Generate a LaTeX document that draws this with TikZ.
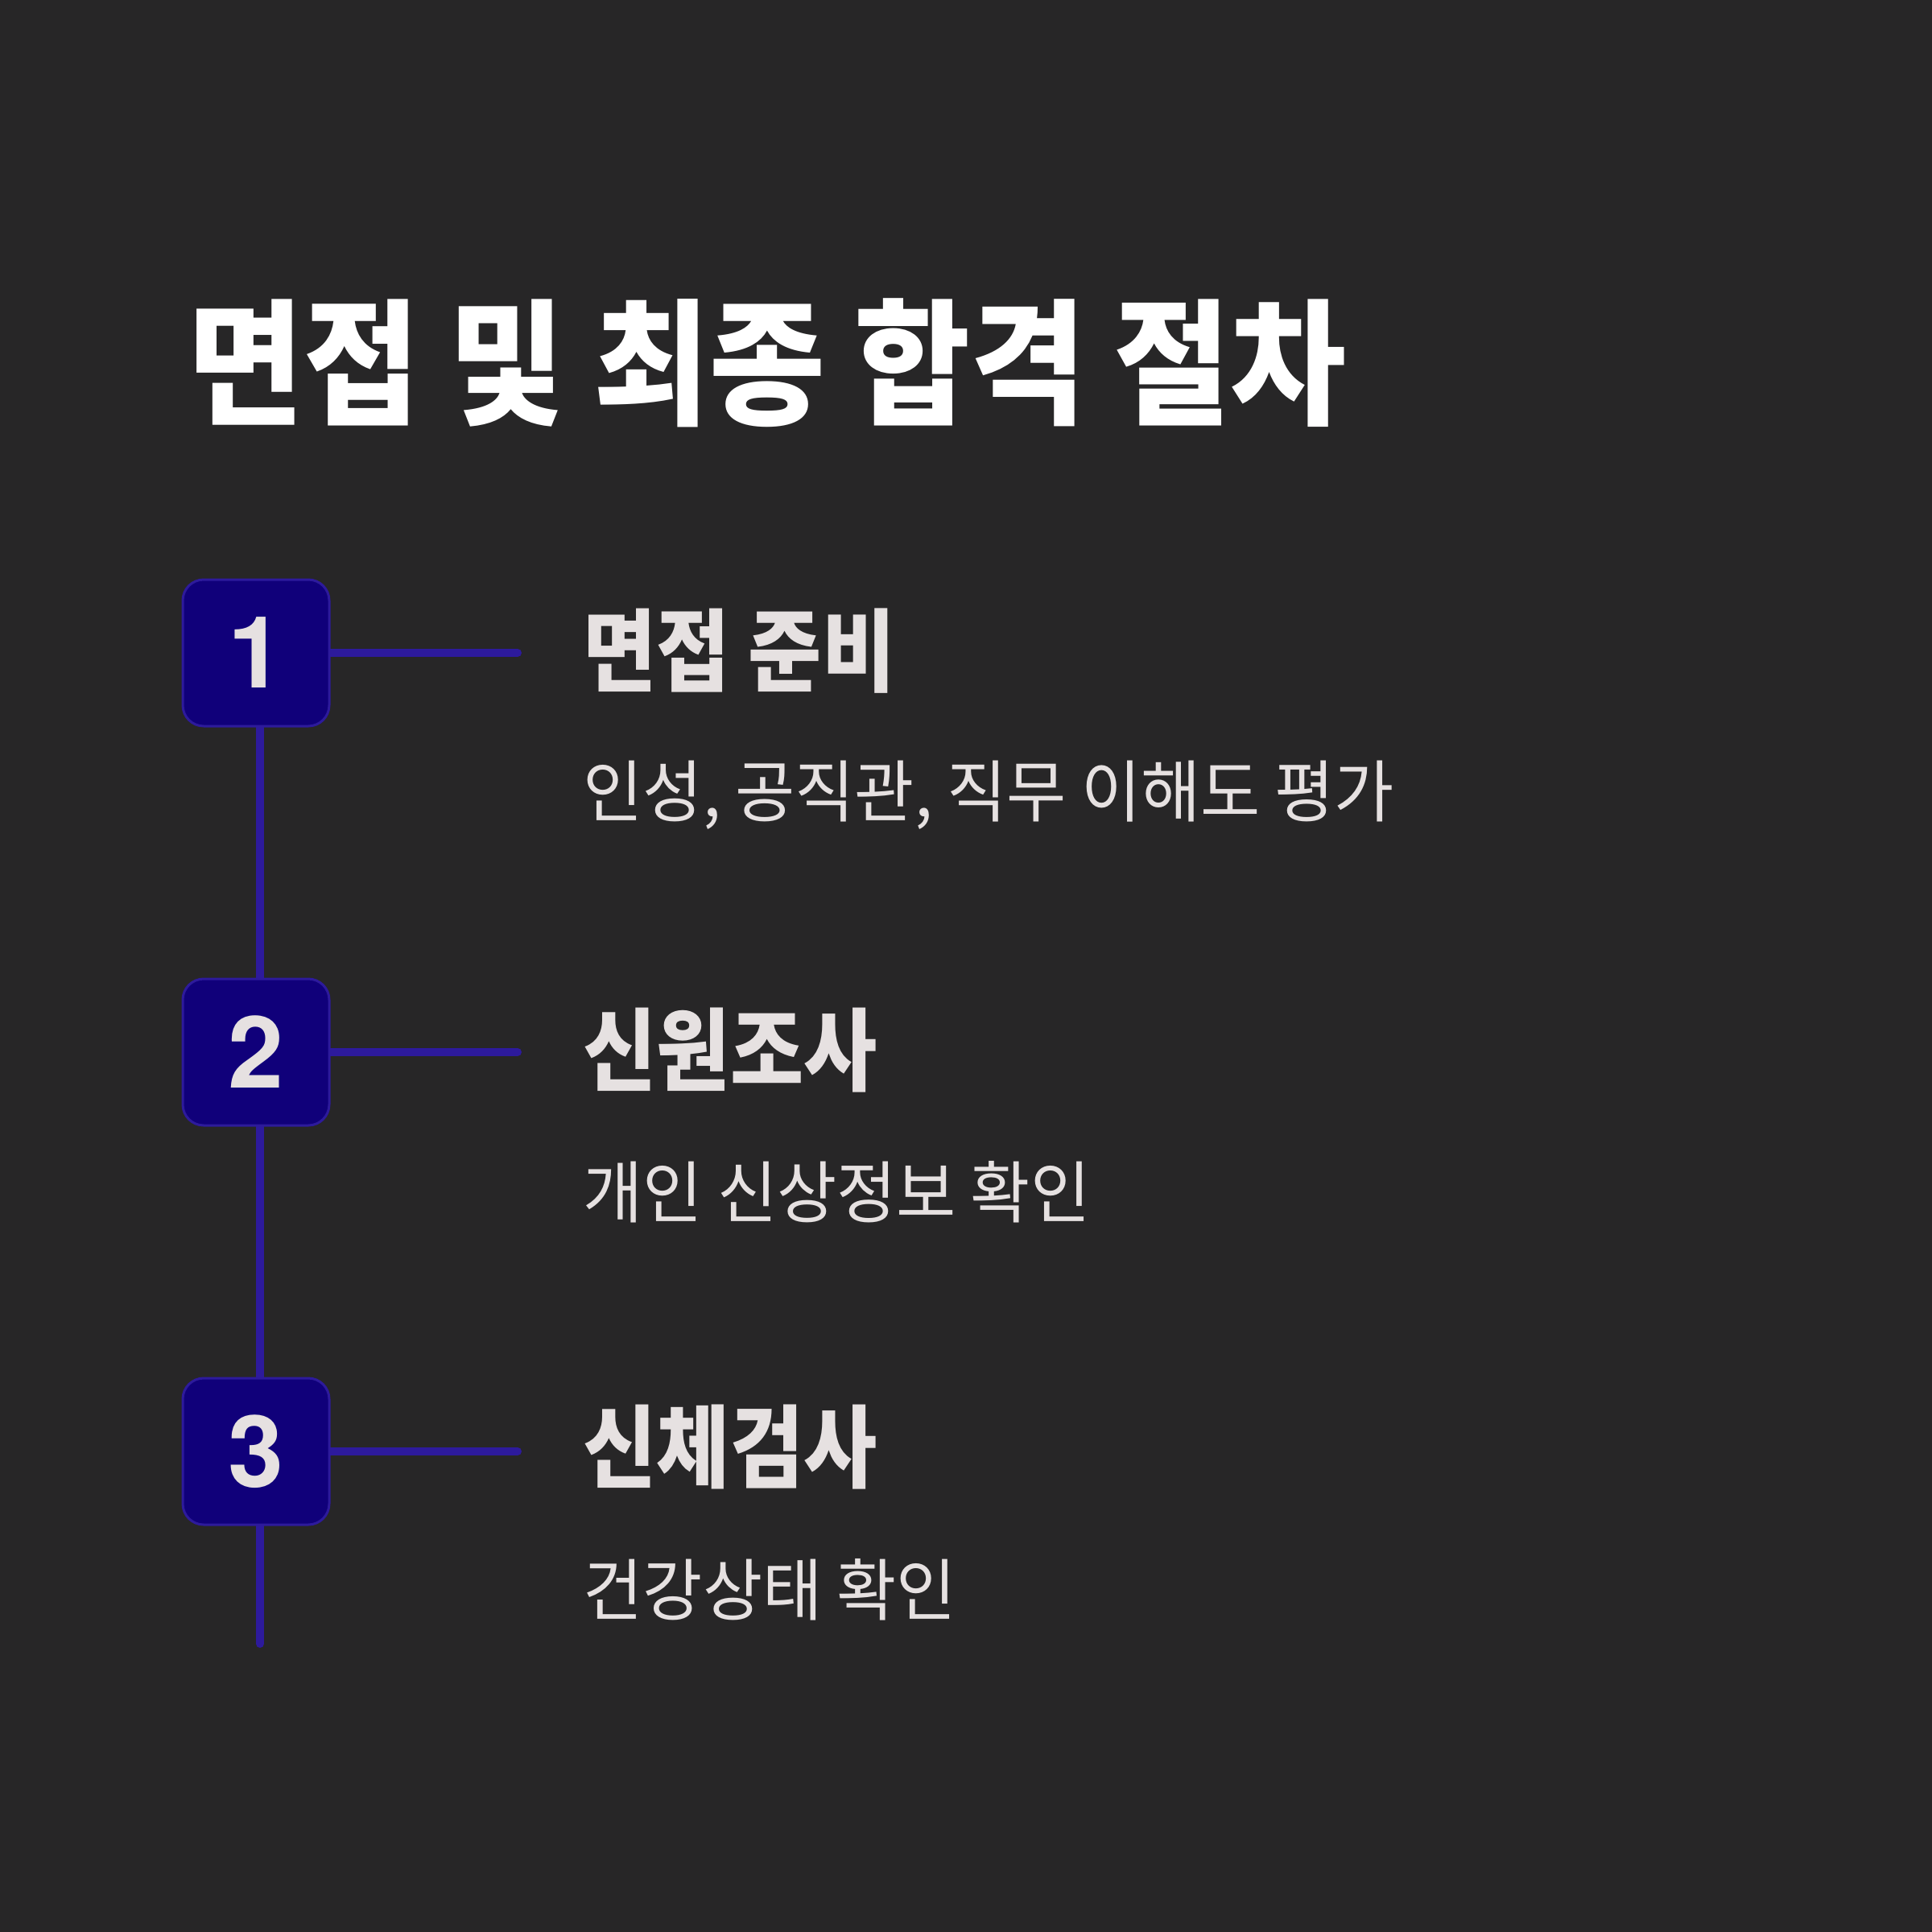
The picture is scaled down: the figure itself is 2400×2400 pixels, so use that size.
\documentclass[tikz,border=0pt]{standalone}
\usepackage{fontspec}
\newfontfamily\krb[FakeStretch=0.885]{Noto Sans CJK KR}
\newfontfamily\krt[FakeStretch=0.925]{Noto Sans CJK KR}
\newfontfamily\krr[FakeStretch=0.96]{Noto Sans CJK KR}
\newfontfamily\num{TeX Gyre Heros}
\definecolor{bgc}{HTML}{272627}
\definecolor{boxfill}{HTML}{10007A}
\definecolor{linec}{HTML}{2D1A9C}
\definecolor{txt}{HTML}{E6E1E1}
\pgfdeclarelayer{bg}
\pgfdeclarelayer{lines}
\pgfsetlayers{bg,lines,main}
\tikzset{
  stepbox/.style={draw=linec, line width=0.75pt, fill=boxfill, rounded corners=6.5pt,
    minimum width=45.5pt, minimum height=45.5pt, inner sep=0pt,
    font=\num\bfseries\fontsize{31}{31}\selectfont, text=txt},
  conn/.style={draw=linec, line width=2.5pt, line cap=round},
  heading/.style={anchor=west, inner sep=0pt, text=txt, font=\krb\bfseries\fontsize{28}{28}\selectfont},
  subtext/.style={anchor=west, inner sep=0pt, text=txt, font=\krr\fontsize{21}{21}\selectfont},
  titletext/.style={anchor=west, inner sep=0pt, text=white, font=\krt\bfseries\fontsize{42.3}{42.3}\selectfont}
}
\begin{document}
\begin{tikzpicture}[x=0.25pt, y=-0.25pt]
\begin{pgfonlayer}{bg}
\fill[bgc] (0,0) rectangle (2400,2400);
\end{pgfonlayer}
\useasboundingbox (0,0) rectangle (2400,2400);
\node[titletext] (title) at (233,451) {면접 및 최종 합격 절차};
\node[stepbox] (b1) at (318,811) {1};
\node[stepbox] (b2) at (318,1307) {2};
\node[stepbox] (b3) at (318,1803) {3};
\coordinate (e1) at (643,811);
\coordinate (e2) at (643,1307);
\coordinate (e3) at (643,1803);
\coordinate (tail) at (323,2042);
\begin{pgfonlayer}{lines}
\draw[conn] ([xshift=1.25pt]b1.center) -- ([xshift=1.25pt]b2.center);
\draw[conn] ([xshift=1.25pt]b2.center) -- ([xshift=1.25pt]b3.center);
\draw[conn] ([xshift=1.25pt]b3.center) -- (tail);
\draw[conn] (b1.center) -- (e1);
\draw[conn] (b2.center) -- (e2);
\draw[conn] (b3.center) -- (e3);
\end{pgfonlayer}
\node[heading] (h1) at (724,809) {면접 준비};
\node[subtext] (s1) at (724,988) {인성, 공직관, 직무 이해도 평가};
\node[heading] (h2) at (724,1305) {신원조사};
\node[subtext] (s2) at (724,1481) {개인 신상정보 확인};
\node[heading] (h3) at (724,1798) {신체검사};
\node[subtext] (s3) at (724,1975) {건강상태 확인};
\end{tikzpicture}
\end{document}
